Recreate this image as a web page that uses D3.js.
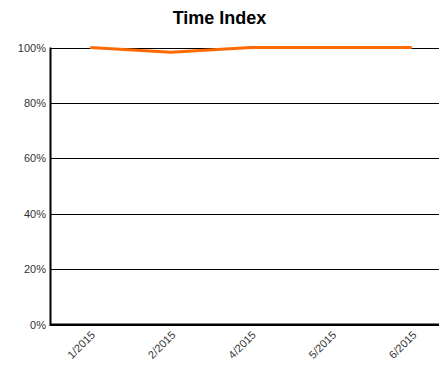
<!DOCTYPE html>
<html>
<head>
<meta charset="utf-8">
<script src="https://cdn.jsdelivr.net/npm/d3@7"></script>
<style>
    body { margin: 0; background: #fff; }
    svg { display: block; font-family: Arial, "Liberation Sans", sans-serif; }
    .grid line { stroke: #000; stroke-width: 1; shape-rendering: crispEdges; }
    .tick text { fill: #333; font-size: 11px; }
</style>
</head>
<body>
<svg id="chart" width="439" height="371"></svg>
<script>
const months = ["1/2015", "2/2015", "4/2015", "5/2015", "6/2015"];
const indexValues = [1.0, 0.983, 1.0, 1.0, 1.0];
const yTicks = [0, 0.2, 0.4, 0.6, 0.8, 1.0];

const svg = d3.select("#chart"),
    plotLeft = 50,
    plotRight = 452,
    plotTop = 47.5,
    plotBottom = 324.5;

const x = d3.scalePoint()
    .domain(months)
    .range([plotLeft, plotRight])
    .padding(0.5);

const y = d3.scaleLinear()
    .domain([0, 1])
    .range([plotBottom, plotTop]);

svg.append("text")
    .attr("x", 219.5)
    .attr("y", 24)
    .attr("text-anchor", "middle")
    .style("font-size", "18px")
    .style("font-weight", "bold")
    .text("Time Index");

// horizontal gridlines across the plot
svg.append("g")
    .attr("class", "grid")
    .selectAll("line")
    .data(yTicks)
    .enter()
    .append("line")
    .attr("x1", plotLeft)
    .attr("x2", 439)
    .attr("y1", function (d) { return Math.round(y(d)) + 0.5; })
    .attr("y2", function (d) { return Math.round(y(d)) + 0.5; });

// y axis labels
const yAxis = svg.append("g")
    .attr("transform", "translate(" + plotLeft + ",0)")
    .call(d3.axisLeft(y).tickValues(yTicks).tickFormat(d3.format(".0%")).tickSize(0).tickPadding(4));
yAxis.select(".domain").remove();

svg.append("line")
    .attr("x1", plotLeft + 0.5).attr("x2", plotLeft + 0.5)
    .attr("y1", plotTop).attr("y2", plotBottom + 1.5)
    .attr("stroke", "#000").attr("stroke-width", 2);

svg.append("line")
    .attr("x1", plotLeft).attr("x2", 439)
    .attr("y1", plotBottom).attr("y2", plotBottom)
    .attr("stroke", "#000").attr("stroke-width", 2);

// x axis labels, rotated
const xAxis = svg.append("g")
    .attr("transform", "translate(0," + plotBottom + ")")
    .call(d3.axisBottom(x).tickSize(0));
xAxis.select(".domain").remove();
xAxis.selectAll("text")
    .attr("text-anchor", "end")
    .attr("dx", "0")
    .attr("dy", "0")
    .attr("transform", "translate(3,9) rotate(-45)");

const line = d3.line()
    .x(function (d, i) { return x(months[i]); })
    .y(function (d) { return y(d); });

svg.append("path")
    .datum(indexValues)
    .attr("fill", "none")
    .attr("stroke", "#ff6a00")
    .attr("stroke-width", 3)
    .attr("d", line);
</script>
</body>
</html>
